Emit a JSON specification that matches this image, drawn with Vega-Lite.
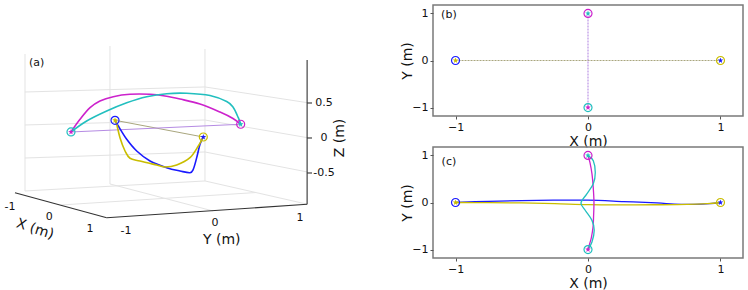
{
  "$schema": "https://vega.github.io/schema/vega-lite/v6.json",
  "padding": {"left": 0, "top": 4, "right": 5, "bottom": 0},
  "config": {
    "font": "DejaVu Sans",
    "view": {"stroke": "#7a7a7a", "strokeWidth": 1.5},
    "axis": {"domain": false, "grid": false, "ticks": true, "tickSize": 3, "tickColor": "#555555", "labelFontSize": 11, "labelColor": "#111111", "labelPadding": 2, "titleFontSize": 14, "titleFontWeight": "normal", "titleColor": "#111111", "titlePadding": 2},
    "axisY": {"titlePadding": -3}
  },
  "datasets": {
    "traj3d": [
      {"s": "guess 1-2", "i": 0, "u": -1.214, "v": 0.253}, {"s": "guess 1-2", "i": 1, "u": 0.047, "v": 0.014},
      {"s": "guess 3-4", "i": 0, "u": -1.843, "v": 0.086}, {"s": "guess 3-4", "i": 1, "u": 0.581, "v": 0.196},
      {"s": "agent 3", "i": 0, "u": 0.581, "v": 0.196}, {"s": "agent 3", "i": 1, "u": 0.471, "v": 0.279}, {"s": "agent 3", "i": 2, "u": 0.286, "v": 0.371}, {"s": "agent 3", "i": 3, "u": 0.0, "v": 0.486}, {"s": "agent 3", "i": 4, "u": -0.286, "v": 0.557}, {"s": "agent 3", "i": 5, "u": -0.5, "v": 0.6}, {"s": "agent 3", "i": 6, "u": -0.714, "v": 0.624}, {"s": "agent 3", "i": 7, "u": -1.0, "v": 0.624}, {"s": "agent 3", "i": 8, "u": -1.239, "v": 0.59}, {"s": "agent 3", "i": 9, "u": -1.429, "v": 0.529}, {"s": "agent 3", "i": 10, "u": -1.571, "v": 0.433}, {"s": "agent 3", "i": 11, "u": -1.714, "v": 0.267}, {"s": "agent 3", "i": 12, "u": -1.843, "v": 0.086},
      {"s": "agent 4", "i": 0, "u": -1.843, "v": 0.086}, {"s": "agent 4", "i": 1, "u": -1.619, "v": 0.243}, {"s": "agent 4", "i": 2, "u": -1.333, "v": 0.386}, {"s": "agent 4", "i": 3, "u": -1.047, "v": 0.504}, {"s": "agent 4", "i": 4, "u": -0.761, "v": 0.59}, {"s": "agent 4", "i": 5, "u": -0.476, "v": 0.633}, {"s": "agent 4", "i": 6, "u": -0.19, "v": 0.639}, {"s": "agent 4", "i": 7, "u": 0.143, "v": 0.607}, {"s": "agent 4", "i": 8, "u": 0.381, "v": 0.521}, {"s": "agent 4", "i": 9, "u": 0.471, "v": 0.443}, {"s": "agent 4", "i": 10, "u": 0.547, "v": 0.29}, {"s": "agent 4", "i": 11, "u": 0.581, "v": 0.196},
      {"s": "agent 1", "i": 0, "u": -1.214, "v": 0.253}, {"s": "agent 1", "i": 1, "u": -1.167, "v": 0.171}, {"s": "agent 1", "i": 2, "u": -1.047, "v": -0.019}, {"s": "agent 1", "i": 3, "u": -0.904, "v": -0.186}, {"s": "agent 1", "i": 4, "u": -0.714, "v": -0.329}, {"s": "agent 1", "i": 5, "u": -0.476, "v": -0.424}, {"s": "agent 1", "i": 6, "u": -0.286, "v": -0.471}, {"s": "agent 1", "i": 7, "u": -0.143, "v": -0.496}, {"s": "agent 1", "i": 8, "u": -0.096, "v": -0.447}, {"s": "agent 1", "i": 9, "u": -0.047, "v": -0.281}, {"s": "agent 1", "i": 10, "u": 0.0, "v": -0.09}, {"s": "agent 1", "i": 11, "u": 0.047, "v": 0.014},
      {"s": "agent 2", "i": 0, "u": 0.047, "v": 0.014}, {"s": "agent 2", "i": 1, "u": -0.024, "v": -0.114}, {"s": "agent 2", "i": 2, "u": -0.143, "v": -0.281}, {"s": "agent 2", "i": 3, "u": -0.333, "v": -0.386}, {"s": "agent 2", "i": 4, "u": -0.5, "v": -0.414}, {"s": "agent 2", "i": 5, "u": -0.619, "v": -0.386}, {"s": "agent 2", "i": 6, "u": -0.857, "v": -0.329}, {"s": "agent 2", "i": 7, "u": -1.0, "v": -0.29}, {"s": "agent 2", "i": 8, "u": -1.071, "v": -0.186}, {"s": "agent 2", "i": 9, "u": -1.143, "v": 0.004}, {"s": "agent 2", "i": 10, "u": -1.19, "v": 0.196}, {"s": "agent 2", "i": 11, "u": -1.214, "v": 0.253}
    ],
    "grid3d": [
      {"id": "g1", "i": 0, "u": -2.5, "v": 1.2}, {"id": "g1", "i": 1, "u": -2.5, "v": -0.757},
      {"id": "g2", "i": 0, "u": -1.286, "v": 1.314}, {"id": "g2", "i": 1, "u": -1.286, "v": -0.657},
      {"id": "g3", "i": 0, "u": 0.071, "v": 1.271}, {"id": "g3", "i": 1, "u": 0.071, "v": -0.614},
      {"id": "g4", "i": 0, "u": -2.5, "v": 0.657}, {"id": "g4", "i": 1, "u": 0.071, "v": 0.729}, {"id": "g4", "i": 2, "u": 1.536, "v": 0.504},
      {"id": "g5", "i": 0, "u": -2.5, "v": 0.186}, {"id": "g5", "i": 1, "u": 0.071, "v": 0.257}, {"id": "g5", "i": 2, "u": 1.536, "v": 0.004},
      {"id": "g6", "i": 0, "u": -2.5, "v": -0.286}, {"id": "g6", "i": 1, "u": 0.071, "v": -0.2}, {"id": "g6", "i": 2, "u": 1.536, "v": -0.486},
      {"id": "g10", "i": 0, "u": -2.5, "v": -0.757}, {"id": "g10", "i": 1, "u": 0.071, "v": -0.614}, {"id": "g10", "i": 2, "u": 1.536, "v": -0.947},
      {"id": "g12", "i": 0, "u": -1.286, "v": -0.657}, {"id": "g12", "i": 1, "u": 0.186, "v": -1.043},
      {"id": "g13", "i": 0, "u": -1.986, "v": -0.957}, {"id": "g13", "i": 1, "u": 0.8, "v": -0.779}
    ],
    "axes3d": [
      {"id": "x", "i": 0, "u": -2.643, "v": -0.781}, {"id": "x", "i": 1, "u": -1.333, "v": -1.139},
      {"id": "y", "i": 0, "u": -1.333, "v": -1.139}, {"id": "y", "i": 1, "u": 1.53, "v": -0.947},
      {"id": "z", "i": 0, "u": 1.53, "v": -0.947}, {"id": "z", "i": 1, "u": 1.53, "v": 1.114},
      {"id": "t1", "i": 0, "u": 1.53, "v": 0.5}, {"id": "t1", "i": 1, "u": 1.6, "v": 0.5},
      {"id": "t2", "i": 0, "u": 1.53, "v": 0.0}, {"id": "t2", "i": 1, "u": 1.6, "v": 0.0},
      {"id": "t3", "i": 0, "u": 1.53, "v": -0.5}, {"id": "t3", "i": 1, "u": 1.6, "v": -0.5}
    ],
    "labels3d": [
      {"role": "tick", "u": 1.771, "v": 0.5, "t": "0.5"}, {"role": "tick", "u": 1.771, "v": 0.0, "t": "0"}, {"role": "tick", "u": 1.771, "v": -0.5, "t": "-0.5"},
      {"role": "tick", "u": -2.714, "v": -0.981, "t": "-1"}, {"role": "tick", "u": -2.153, "v": -1.124, "t": "0"}, {"role": "tick", "u": -1.571, "v": -1.304, "t": "1"},
      {"role": "tick", "u": -1.057, "v": -1.329, "t": "-1"}, {"role": "tick", "u": 0.214, "v": -1.21, "t": "0"}, {"role": "tick", "u": 1.429, "v": -1.139, "t": "1"},
      {"role": "tick", "u": -2.333, "v": 1.076, "t": "(a)"},
      {"role": "xtitle", "u": -2.357, "v": -1.304, "t": "X (m)"},
      {"role": "ytitle", "u": 0.31, "v": -1.46, "t": "Y (m)"},
      {"role": "ztitle", "u": 2.0, "v": 0.0, "t": "Z (m)"}
    ],
    "marks3d": [
      {"m": "start", "s": "agent 1", "u": -1.214, "v": 0.253}, {"m": "start", "s": "agent 2", "u": 0.047, "v": 0.014}, {"m": "start", "s": "agent 3", "u": 0.581, "v": 0.196}, {"m": "start", "s": "agent 4", "u": -1.843, "v": 0.086},
      {"m": "goal", "s": "agent 1", "u": 0.047, "v": 0.014}, {"m": "goal", "s": "agent 2", "u": -1.214, "v": 0.253}, {"m": "goal", "s": "agent 3", "u": -1.843, "v": 0.086}, {"m": "goal", "s": "agent 4", "u": 0.581, "v": 0.196}
    ],
    "marks2d": [
      {"m": "start", "s": "agent 1", "x": -1, "y": 0}, {"m": "start", "s": "agent 2", "x": 1, "y": 0}, {"m": "start", "s": "agent 3", "x": 0, "y": 1}, {"m": "start", "s": "agent 4", "x": 0, "y": -1},
      {"m": "goal", "s": "agent 1", "x": 1, "y": 0}, {"m": "goal", "s": "agent 2", "x": -1, "y": 0}, {"m": "goal", "s": "agent 3", "x": 0, "y": -1}, {"m": "goal", "s": "agent 4", "x": 0, "y": 1}
    ],
    "guess2d": [
      {"s": "guess 1-2", "i": 0, "x": -1, "y": 0}, {"s": "guess 1-2", "i": 1, "x": 1, "y": 0},
      {"s": "guess 3-4", "i": 0, "x": 0, "y": 1}, {"s": "guess 3-4", "i": 1, "x": 0, "y": -1}
    ],
    "traj2d": [
      {"s": "agent 1", "i": 0, "x": -1, "y": 0}, {"s": "agent 1", "i": 1, "x": -0.75, "y": 0.025}, {"s": "agent 1", "i": 2, "x": -0.5, "y": 0.04}, {"s": "agent 1", "i": 3, "x": -0.25, "y": 0.05}, {"s": "agent 1", "i": 4, "x": 0, "y": 0.05}, {"s": "agent 1", "i": 5, "x": 0.27, "y": 0.02}, {"s": "agent 1", "i": 6, "x": 0.52, "y": -0.01}, {"s": "agent 1", "i": 7, "x": 0.65, "y": -0.035}, {"s": "agent 1", "i": 8, "x": 0.8, "y": -0.04}, {"s": "agent 1", "i": 9, "x": 0.92, "y": -0.025}, {"s": "agent 1", "i": 10, "x": 1, "y": 0},
      {"s": "agent 2", "i": 0, "x": 1, "y": 0}, {"s": "agent 2", "i": 1, "x": 0.9, "y": -0.025}, {"s": "agent 2", "i": 2, "x": 0.75, "y": -0.042}, {"s": "agent 2", "i": 3, "x": 0.5, "y": -0.048}, {"s": "agent 2", "i": 4, "x": 0.25, "y": -0.05}, {"s": "agent 2", "i": 5, "x": 0, "y": -0.045}, {"s": "agent 2", "i": 6, "x": -0.25, "y": -0.025}, {"s": "agent 2", "i": 7, "x": -0.5, "y": -0.01}, {"s": "agent 2", "i": 8, "x": -0.75, "y": -0.002}, {"s": "agent 2", "i": 9, "x": -1, "y": 0},
      {"s": "agent 3", "i": 0, "x": 0, "y": 1}, {"s": "agent 3", "i": 1, "x": 0.015, "y": 0.85}, {"s": "agent 3", "i": 2, "x": 0.03, "y": 0.61}, {"s": "agent 3", "i": 3, "x": 0.04, "y": 0.3}, {"s": "agent 3", "i": 4, "x": 0.045, "y": 0}, {"s": "agent 3", "i": 5, "x": 0.042, "y": -0.3}, {"s": "agent 3", "i": 6, "x": 0.038, "y": -0.52}, {"s": "agent 3", "i": 7, "x": 0.025, "y": -0.75}, {"s": "agent 3", "i": 8, "x": 0.01, "y": -0.9}, {"s": "agent 3", "i": 9, "x": 0, "y": -1},
      {"s": "agent 4", "i": 0, "x": 0, "y": -1}, {"s": "agent 4", "i": 1, "x": 0.03, "y": -0.84}, {"s": "agent 4", "i": 2, "x": 0.047, "y": -0.59}, {"s": "agent 4", "i": 3, "x": 0.03, "y": -0.38}, {"s": "agent 4", "i": 4, "x": -0.02, "y": -0.17}, {"s": "agent 4", "i": 5, "x": -0.053, "y": -0.01}, {"s": "agent 4", "i": 6, "x": -0.01, "y": 0.18}, {"s": "agent 4", "i": 7, "x": 0.04, "y": 0.4}, {"s": "agent 4", "i": 8, "x": 0.055, "y": 0.64}, {"s": "agent 4", "i": 9, "x": 0.04, "y": 0.89}, {"s": "agent 4", "i": 10, "x": 0, "y": 1}
    ]
  },
  "bounds": "flush",
  "spacing": 43,
  "hconcat": [
    {
      "width": 390,
      "height": 286,
      "view": {"stroke": null},
      "encoding": {
        "x": {"field": "u", "type": "quantitative", "scale": {"domain": [-2.857, 2.714], "nice": false, "zero": false}, "axis": null},
        "y": {"field": "v", "type": "quantitative", "scale": {"domain": [-2.186, 1.9], "nice": false, "zero": false}, "axis": null}
      },
      "layer": [
        {"data": {"name": "grid3d"}, "mark": {"type": "line", "color": "#e3e3e3", "strokeWidth": 1}, "encoding": {"detail": {"field": "id"}, "order": {"field": "i"}}},
        {"data": {"name": "axes3d"}, "mark": {"type": "line", "color": "#333333", "strokeWidth": 1.1}, "encoding": {"detail": {"field": "id"}, "order": {"field": "i"}}},
        {"data": {"name": "traj3d"}, "transform": [{"filter": {"field": "s", "oneOf": ["guess 1-2", "guess 3-4"]}}], "mark": {"type": "line", "strokeWidth": 1}, "encoding": {"color": {"field": "s", "type": "nominal", "scale": {"domain": ["agent 1", "agent 2", "agent 3", "agent 4", "guess 1-2", "guess 3-4"], "range": ["#1a1aff", "#c9bd00", "#cc22cc", "#22bfbf", "#a9a67e", "#b58be3"]}, "legend": null}, "order": {"field": "i"}}},
        {"data": {"name": "traj3d"}, "transform": [{"filter": {"field": "s", "oneOf": ["agent 1", "agent 2", "agent 3", "agent 4"]}}], "mark": {"type": "line", "strokeWidth": 1.6, "interpolate": "cardinal"}, "encoding": {"color": {"field": "s", "type": "nominal", "scale": {"domain": ["agent 1", "agent 2", "agent 3", "agent 4", "guess 1-2", "guess 3-4"], "range": ["#1a1aff", "#c9bd00", "#cc22cc", "#22bfbf", "#a9a67e", "#b58be3"]}, "legend": null}, "order": {"field": "i"}}},
        {"data": {"name": "marks3d"}, "transform": [{"filter": "datum.m === 'start'"}], "mark": {"type": "point", "shape": "circle", "filled": false, "size": 64, "strokeWidth": 1.2, "opacity": 1}, "encoding": {"color": {"field": "s", "type": "nominal", "scale": {"domain": ["agent 1", "agent 2", "agent 3", "agent 4", "guess 1-2", "guess 3-4"], "range": ["#1a1aff", "#c9bd00", "#cc22cc", "#22bfbf", "#a9a67e", "#b58be3"]}, "legend": null}}},
        {"data": {"name": "marks3d"}, "transform": [{"filter": "datum.m === 'goal'"}], "mark": {"type": "point", "shape": "M0,-1L0.235,-0.324L0.951,-0.309L0.38,0.124L0.588,0.809L0,0.412L-0.588,0.809L-0.38,0.124L-0.951,-0.309L-0.235,-0.324Z", "filled": true, "size": 36, "opacity": 1}, "encoding": {"color": {"field": "s", "type": "nominal", "scale": {"domain": ["agent 1", "agent 2", "agent 3", "agent 4", "guess 1-2", "guess 3-4"], "range": ["#1a1aff", "#c9bd00", "#cc22cc", "#22bfbf", "#a9a67e", "#b58be3"]}, "legend": null}}},
        {"data": {"name": "labels3d"}, "transform": [{"filter": "datum.role === 'tick'"}], "mark": {"type": "text", "fontSize": 11, "align": "center", "baseline": "middle", "color": "#111111"}, "encoding": {"text": {"field": "t"}}},
        {"data": {"name": "labels3d"}, "transform": [{"filter": "datum.role === 'xtitle'"}], "mark": {"type": "text", "fontSize": 14, "angle": 18, "align": "center", "baseline": "middle", "color": "#111111"}, "encoding": {"text": {"field": "t"}}},
        {"data": {"name": "labels3d"}, "transform": [{"filter": "datum.role === 'ytitle'"}], "mark": {"type": "text", "fontSize": 14, "align": "center", "baseline": "middle", "color": "#111111"}, "encoding": {"text": {"field": "t"}}},
        {"data": {"name": "labels3d"}, "transform": [{"filter": "datum.role === 'ztitle'"}], "mark": {"type": "text", "fontSize": 14, "angle": 270, "align": "center", "baseline": "middle", "color": "#111111"}, "encoding": {"text": {"field": "t"}}}
      ]
    },
    {
      "bounds": "flush",
      "spacing": 31,
      "vconcat": [
        {
          "width": 310,
          "height": 111,
          "encoding": {
            "x": {"field": "x", "type": "quantitative", "scale": {"domain": [-1.17, 1.17], "nice": false, "zero": false}, "axis": {"values": [-1, 0, 1], "title": "X (m)"}},
            "y": {"field": "y", "type": "quantitative", "scale": {"domain": [-1.18, 1.18], "nice": false, "zero": false}, "axis": {"values": [-1, 0, 1], "title": "Y (m)"}}
          },
          "layer": [
            {"data": {"name": "guess2d"}, "mark": {"type": "line", "strokeWidth": 1.1, "strokeDash": [2, 1]}, "encoding": {"color": {"field": "s", "type": "nominal", "scale": {"domain": ["agent 1", "agent 2", "agent 3", "agent 4", "guess 1-2", "guess 3-4"], "range": ["#1a1aff", "#c9bd00", "#cc22cc", "#22bfbf", "#a9a67e", "#b58be3"]}, "legend": null}, "order": {"field": "i"}}},
            {"data": {"name": "marks2d"}, "transform": [{"filter": "datum.m === 'start'"}], "mark": {"type": "point", "shape": "circle", "filled": false, "size": 64, "strokeWidth": 1.2, "opacity": 1}, "encoding": {"color": {"field": "s", "type": "nominal", "scale": {"domain": ["agent 1", "agent 2", "agent 3", "agent 4", "guess 1-2", "guess 3-4"], "range": ["#1a1aff", "#c9bd00", "#cc22cc", "#22bfbf", "#a9a67e", "#b58be3"]}, "legend": null}}},
            {"data": {"name": "marks2d"}, "transform": [{"filter": "datum.m === 'goal'"}], "mark": {"type": "point", "shape": "M0,-1L0.235,-0.324L0.951,-0.309L0.38,0.124L0.588,0.809L0,0.412L-0.588,0.809L-0.38,0.124L-0.951,-0.309L-0.235,-0.324Z", "filled": true, "size": 36, "opacity": 1}, "encoding": {"color": {"field": "s", "type": "nominal", "scale": {"domain": ["agent 1", "agent 2", "agent 3", "agent 4", "guess 1-2", "guess 3-4"], "range": ["#1a1aff", "#c9bd00", "#cc22cc", "#22bfbf", "#a9a67e", "#b58be3"]}, "legend": null}}},
            {"data": {"values": [{"x": -1.05, "y": 0.964, "t": "(b)"}]}, "mark": {"type": "text", "fontSize": 11, "align": "center", "baseline": "middle", "color": "#111111"}, "encoding": {"text": {"field": "t"}}}
          ]
        },
        {
          "width": 310,
          "height": 111,
          "encoding": {
            "x": {"field": "x", "type": "quantitative", "scale": {"domain": [-1.17, 1.17], "nice": false, "zero": false}, "axis": {"values": [-1, 0, 1], "title": "X (m)"}},
            "y": {"field": "y", "type": "quantitative", "scale": {"domain": [-1.18, 1.18], "nice": false, "zero": false}, "axis": {"values": [-1, 0, 1], "title": "Y (m)"}}
          },
          "layer": [
            {"data": {"name": "traj2d"}, "mark": {"type": "line", "strokeWidth": 1.3, "interpolate": "cardinal"}, "encoding": {"color": {"field": "s", "type": "nominal", "scale": {"domain": ["agent 1", "agent 2", "agent 3", "agent 4", "guess 1-2", "guess 3-4"], "range": ["#1a1aff", "#c9bd00", "#cc22cc", "#22bfbf", "#a9a67e", "#b58be3"]}, "legend": null}, "order": {"field": "i"}}},
            {"data": {"name": "marks2d"}, "transform": [{"filter": "datum.m === 'start'"}], "mark": {"type": "point", "shape": "circle", "filled": false, "size": 64, "strokeWidth": 1.2, "opacity": 1}, "encoding": {"color": {"field": "s", "type": "nominal", "scale": {"domain": ["agent 1", "agent 2", "agent 3", "agent 4", "guess 1-2", "guess 3-4"], "range": ["#1a1aff", "#c9bd00", "#cc22cc", "#22bfbf", "#a9a67e", "#b58be3"]}, "legend": null}}},
            {"data": {"name": "marks2d"}, "transform": [{"filter": "datum.m === 'goal'"}], "mark": {"type": "point", "shape": "M0,-1L0.235,-0.324L0.951,-0.309L0.38,0.124L0.588,0.809L0,0.412L-0.588,0.809L-0.38,0.124L-0.951,-0.309L-0.235,-0.324Z", "filled": true, "size": 36, "opacity": 1}, "encoding": {"color": {"field": "s", "type": "nominal", "scale": {"domain": ["agent 1", "agent 2", "agent 3", "agent 4", "guess 1-2", "guess 3-4"], "range": ["#1a1aff", "#c9bd00", "#cc22cc", "#22bfbf", "#a9a67e", "#b58be3"]}, "legend": null}}},
            {"data": {"values": [{"x": -1.05, "y": 0.854, "t": "(c)"}]}, "mark": {"type": "text", "fontSize": 11, "align": "center", "baseline": "middle", "color": "#111111"}, "encoding": {"text": {"field": "t"}}}
          ]
        }
      ]
    }
  ]
}
